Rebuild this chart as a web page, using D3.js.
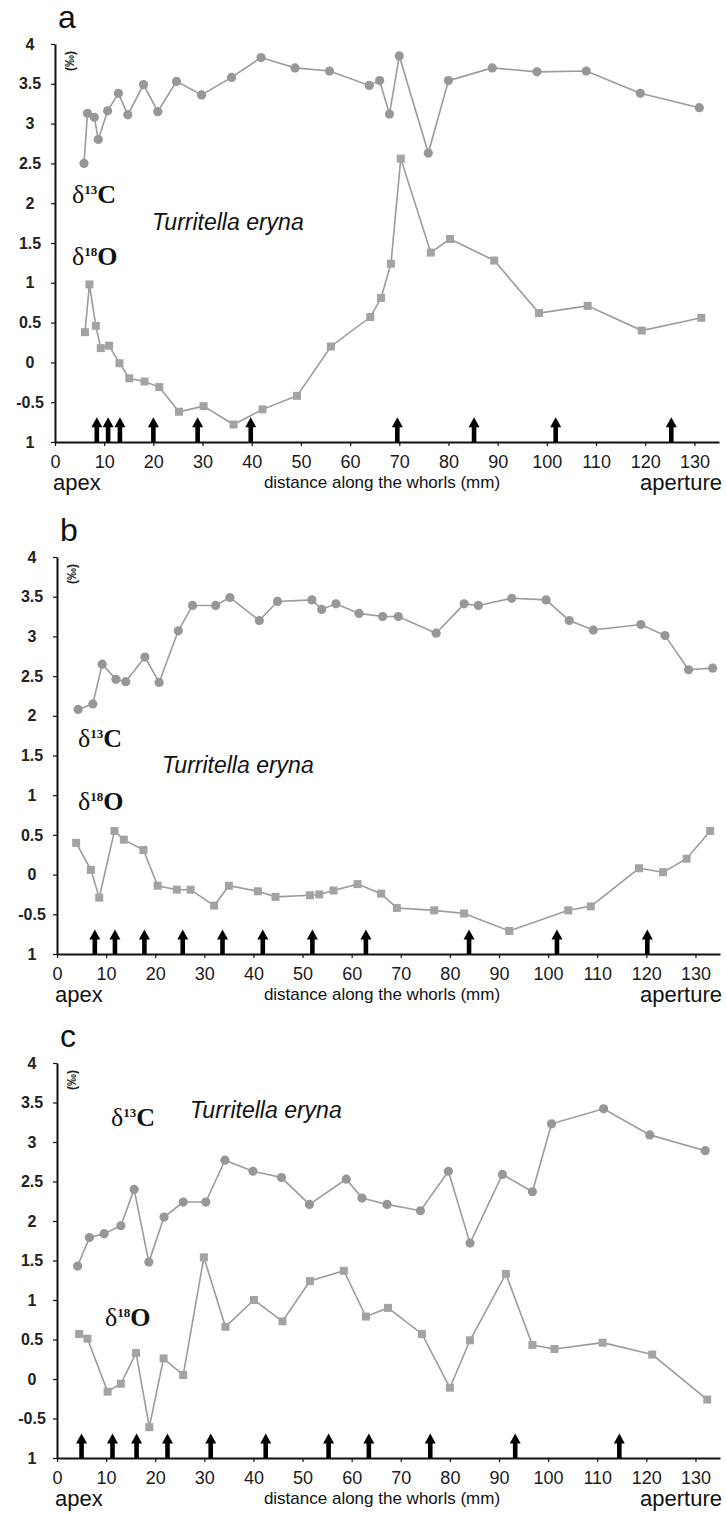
<!DOCTYPE html>
<html>
<head>
<meta charset="utf-8">
<script src="https://cdn.jsdelivr.net/npm/d3@7"></script>
<style>
  body { margin: 0; background: #fff; }
  svg { display: block; }
</style>
</head>
<body>
<div id="chart"></div>
<script>

/*******************************/
/*          The data           */
/*******************************/
// [distance (mm), value (‰)]
const carbonA = [[5.9,2.5],[6.6,3.13],[8.0,3.08],[8.8,2.8],[10.7,3.16],[12.9,3.38],[14.8,3.11],[18.0,3.49],[20.9,3.15],[24.7,3.53],[29.8,3.36],[35.9,3.58],[41.9,3.83],[48.8,3.7],[55.8,3.66],[63.9,3.48],[66.0,3.54],[68.0,3.12],[70.0,3.85],[75.9,2.63],[80.0,3.54],[88.9,3.7],[98.0,3.65],[108.0,3.66],[119.0,3.38],[131.0,3.2]];
const oxygenA = [[6.1,0.38],[7.0,0.98],[8.3,0.46],[9.3,0.18],[11.0,0.21],[13.1,-0.01],[15.1,-0.2],[18.2,-0.24],[21.2,-0.31],[25.2,-0.62],[30.2,-0.55],[36.3,-0.78],[42.2,-0.59],[49.2,-0.42],[56.1,0.2],[64.1,0.57],[66.3,0.81],[68.3,1.24],[70.3,2.56],[76.4,1.38],[80.3,1.55],[89.3,1.28],[98.4,0.62],[108.3,0.71],[119.3,0.4],[131.4,0.56]];
const arrowsA = [8.5, 10.8, 13.2, 20, 29, 39.8, 69.6, 85.2, 101.8, 125.3];

const carbonB = [[4.3,2.08],[7.3,2.15],[9.2,2.65],[12.0,2.46],[14.0,2.43],[17.9,2.74],[20.8,2.42],[24.7,3.07],[27.6,3.39],[32.3,3.39],[35.2,3.49],[41.2,3.2],[44.9,3.44],[51.9,3.46],[53.9,3.34],[56.8,3.41],[61.5,3.29],[66.3,3.25],[69.5,3.25],[77.2,3.04],[82.9,3.41],[85.8,3.39],[92.6,3.48],[99.6,3.46],[104.3,3.2],[109.2,3.08],[118.9,3.15],[123.8,3.01],[128.6,2.58],[133.5,2.6]];
const oxygenB = [[3.9,0.4],[6.9,0.06],[8.6,-0.29],[11.7,0.55],[13.6,0.44],[17.6,0.31],[20.5,-0.14],[24.4,-0.19],[27.2,-0.19],[32.0,-0.39],[35.0,-0.14],[40.9,-0.21],[44.5,-0.28],[51.5,-0.26],[53.4,-0.25],[56.3,-0.2],[61.2,-0.12],[66.0,-0.24],[69.2,-0.42],[76.8,-0.45],[82.9,-0.49],[92.1,-0.71],[104.1,-0.45],[108.7,-0.4],[118.5,0.08],[123.4,0.03],[128.2,0.2],[133.0,0.55]];
const arrowsB = [7.7, 11.8, 17.8, 25.6, 33.7, 41.9, 52.0, 62.9, 83.9, 101.8, 120.2];

const carbonC = [[4.2,1.43],[6.6,1.79],[9.6,1.84],[13.0,1.94],[15.7,2.4],[18.7,1.48],[21.8,2.05],[25.7,2.24],[30.3,2.24],[34.2,2.77],[39.9,2.63],[45.7,2.55],[51.4,2.21],[58.9,2.53],[62.1,2.29],[67.2,2.21],[74.0,2.13],[79.7,2.63],[84.1,1.72],[90.7,2.59],[96.8,2.37],[100.7,3.23],[111.3,3.42],[120.7,3.09],[132.0,2.89]];
const oxygenC = [[4.5,0.57],[6.2,0.51],[10.3,-0.16],[13.0,-0.06],[16.1,0.33],[18.8,-0.61],[21.7,0.26],[25.7,0.05],[29.9,1.54],[34.3,0.66],[40.1,1.0],[45.9,0.73],[51.5,1.24],[58.4,1.37],[62.9,0.79],[67.4,0.9],[74.3,0.57],[80.0,-0.11],[84.1,0.49],[91.4,1.33],[96.8,0.43],[101.3,0.38],[111.1,0.46],[121.2,0.31],[132.4,-0.26]];
const arrowsC = [5, 11.3, 16.2, 22.5, 31.3, 42.5, 55.3, 63.5, 76, 93.3, 114.5];

// Axis ticks and their labels (the bottom label reads "1" in the figure)
const yTicks = [4, 3.5, 3, 2.5, 2, 1.5, 1, 0.5, 0, -0.5, -1];
const yTickLabels = ["4", "3.5", "3", "2.5", "2", "1.5", "1", "0.5", "0", "-0.5", "1"];
const xTicks = [0, 10, 20, 30, 40, 50, 60, 70, 80, 90, 100, 110, 120, 130];

const panelLetters = ["a", "b", "c"];
const speciesName = "Turritella eryna";


/*******************************/
/*    Declare the constants    */
/*******************************/
const width = 726;
const height = 1513;
const lineColor = "#9b9b9b";
const circleColor = "#979797";
const squareColor = "#a3a3a3";
const sans = "'Liberation Sans', Arial, sans-serif";
const serif = "'Liberation Serif', 'Times New Roman', serif";

// layout of each panel (pixels)
const panels = [
  { letter: panelLetters[0], carbon: carbonA, oxygen: oxygenA, arrows: arrowsA,
    top: 44, bottom: 442, left: 55, right: 719, labelX: 30,
    c13: [72, 203], o18: [72, 265], species: [152, 230] },
  { letter: panelLetters[1], carbon: carbonB, oxygen: oxygenB, arrows: arrowsB,
    top: 557, bottom: 954, left: 57, right: 720, labelX: 32,
    c13: [78, 747], o18: [78, 810], species: [162, 773] },
  { letter: panelLetters[2], carbon: carbonC, oxygen: oxygenC, arrows: arrowsC,
    top: 1063, bottom: 1458, left: 57, right: 720, labelX: 32,
    c13: [111, 1126], o18: [105, 1326], species: [190, 1118] }
];


/*******************************/
/*    Append the container     */
/*******************************/
const svg = d3.select("#chart")
  .append("svg")
    .attr("width", width)
    .attr("height", height)
    .attr("viewBox", `0, 0, ${width}, ${height}`);


/*******************************/
/*      Draw every panel       */
/*******************************/
panels.forEach(p => {
  const g = svg.append("g");

  const xScale = d3.scaleLinear()
    .domain([0, 135])
    .range([p.left, p.right]);
  const yScale = d3.scaleLinear()
    .domain([-1, 4])
    .range([p.bottom, p.top]);

  // Panel letter
  g.append("text")
    .text(p.letter)
    .attr("x", p.left + 3)
    .attr("y", p.top - 16)
    .attr("font-family", sans)
    .attr("font-size", 32)
    .attr("fill", "#111");

  // Left axis
  const leftAxis = d3.axisLeft(yScale)
    .tickValues(yTicks)
    .tickFormat((d, i) => yTickLabels[i])
    .tickSize(4)
    .tickSizeOuter(0);
  const yAxisG = g.append("g")
    .attr("transform", `translate(${p.left}, 0)`)
    .call(leftAxis);
  yAxisG.select(".domain").attr("stroke-width", 2).attr("stroke", "#111");
  yAxisG.selectAll(".tick line").attr("stroke", "#111").attr("stroke-width", 1.2);
  yAxisG.selectAll(".tick text")
    .attr("x", p.labelX - p.left)
    .attr("text-anchor", "middle")
    .attr("font-family", sans)
    .attr("font-size", 16)
    .attr("font-weight", "bold")
    .attr("fill", "#222");

  // Bottom axis
  const bottomAxis = d3.axisBottom(xScale)
    .tickValues(xTicks)
    .tickSize(4)
    .tickSizeOuter(0);
  const xAxisG = g.append("g")
    .attr("transform", `translate(0, ${p.bottom})`)
    .call(bottomAxis);
  xAxisG.select(".domain").attr("stroke-width", 2).attr("stroke", "#111");
  xAxisG.selectAll(".tick line").attr("stroke", "#111").attr("stroke-width", 1.2);
  xAxisG.selectAll(".tick text")
    .attr("y", 13)
    .attr("font-family", sans)
    .attr("font-size", 18)
    .attr("fill", "#1a1a1a");

  // Axis captions
  g.append("text")
    .text("(‰)")
    .attr("transform", `translate(${p.left + 19}, ${p.top + 17}) rotate(-90)`)
    .attr("text-anchor", "middle")
    .attr("font-family", sans)
    .attr("font-size", 12)
    .attr("font-weight", "bold")
    .attr("fill", "#222");
  g.append("text")
    .text("apex")
    .attr("x", p.left - 2)
    .attr("y", p.bottom + 48)
    .attr("font-family", sans)
    .attr("font-size", 22)
    .attr("fill", "#111");
  g.append("text")
    .text("distance along the whorls (mm)")
    .attr("x", 382)
    .attr("y", p.bottom + 46)
    .attr("text-anchor", "middle")
    .attr("font-family", sans)
    .attr("font-size", 17)
    .attr("fill", "#111");
  g.append("text")
    .text("aperture")
    .attr("x", 722)
    .attr("y", p.bottom + 48)
    .attr("text-anchor", "end")
    .attr("font-family", sans)
    .attr("font-size", 22)
    .attr("fill", "#111");

  // Isotope labels
  [["13", "C", p.c13], ["18", "O", p.o18]].forEach(([sup, el, pos]) => {
    const t = g.append("text")
      .attr("x", pos[0])
      .attr("y", pos[1])
      .attr("font-family", serif)
      .attr("fill", "#111");
    t.append("tspan").text("δ").attr("font-size", 26);
    t.append("tspan").text(sup).attr("font-size", 13).attr("font-weight", "bold").attr("dy", -9);
    t.append("tspan").text(el).attr("font-size", 26).attr("font-weight", "bold").attr("dy", 9);
  });
  g.append("text")
    .text(speciesName)
    .attr("x", p.species[0])
    .attr("y", p.species[1])
    .attr("font-family", sans)
    .attr("font-style", "italic")
    .attr("font-size", 23)
    .attr("fill", "#111");

  // Lines
  const line = d3.line()
    .x(d => xScale(d[0]))
    .y(d => yScale(d[1]));
  [p.carbon, p.oxygen].forEach(series => {
    g.append("path")
      .datum(series)
      .attr("d", line)
      .attr("fill", "none")
      .attr("stroke", lineColor)
      .attr("stroke-width", 1.6);
  });

  // Markers
  g.selectAll(".c13")
    .data(p.carbon)
    .join("circle")
      .attr("cx", d => xScale(d[0]))
      .attr("cy", d => yScale(d[1]))
      .attr("r", 4.6)
      .attr("fill", circleColor);
  const sq = 8;
  g.selectAll(".o18")
    .data(p.oxygen)
    .join("rect")
      .attr("x", d => xScale(d[0]) - sq / 2)
      .attr("y", d => yScale(d[1]) - sq / 2)
      .attr("width", sq)
      .attr("height", sq)
      .attr("fill", squareColor);

  // Arrows marking the whorl boundaries
  const base = yScale(-1);
  const tip = yScale(-0.69);
  g.selectAll(".arrow")
    .data(p.arrows)
    .join("path")
      .attr("d", d => {
        const x = xScale(d);
        return `M${x - 2.3},${base} L${x - 2.3},${tip + 10} L${x - 5.5},${tip + 10} L${x},${tip} ` +
               `L${x + 5.5},${tip + 10} L${x + 2.3},${tip + 10} L${x + 2.3},${base} Z`;
      })
      .attr("fill", "#000");
});

</script>
</body>
</html>
